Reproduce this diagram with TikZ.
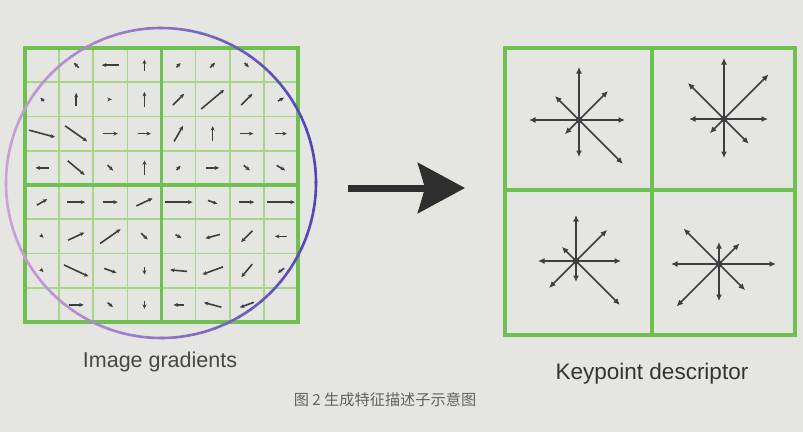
\documentclass[tikz,border=0pt]{standalone}
\usepackage{fontspec}
\setmainfont{Liberation Sans}
\newfontfamily\cjk{Noto Sans CJK SC}
\usetikzlibrary{arrows.meta}
\definecolor{paper}{RGB}{229,229,226}
\definecolor{cellgreen}{RGB}{165,215,135}
\definecolor{boxgreen}{RGB}{110,192,80}
\definecolor{ringpink}{RGB}{205,160,215}
\definecolor{ringblue}{RGB}{80,70,180}
\definecolor{ink}{RGB}{62,62,66}

\begin{document}
\begin{tikzpicture}[x=1pt, y=-1pt,
    grad/.style={ink, line width=1.6pt, -{Stealth[length=4.5pt,width=4pt]}},
    spoke/.style={ink, line width=1.7pt, -{Latex[length=6.5pt,width=6pt]}}]

      \fill[paper] (0,0) rectangle (803,432);
      \useasboundingbox (0,0) rectangle (803,432);

      % image gradients
      \foreach \i in {1,2,3,5,6,7} {
        \draw[cellgreen, line width=1.6pt] (25+34.125*\i,48) -- (25+34.125*\i,322);
        \draw[cellgreen, line width=1.6pt] (25,48+34.25*\i) -- (298,48+34.25*\i);
      }
      \draw[boxgreen, line width=3.5pt] (25,48) rectangle (298,322)
        (161.5,48) -- (161.5,322) (25,185) -- (298,185);

      \foreach \t in {0,5,...,355} {
        \pgfmathsetmacro\mix{50+50*cos(\t)}
        \draw[ringblue!\mix!ringpink, line width=2.6pt]
          (161,183) ++(\t:155pt) arc[start angle=\t, end angle=\t+5.5, radius=155pt];
      }

      \foreach \c/\r/\a/\l in {1/0/135/7, 2/0/180/17, 3/0/90/11, 4/0/45/6, 5/0/45/7, 6/0/-45/6,
          0/1/135/5, 1/1/90/13, 2/1/0/3, 3/1/90/15, 4/1/45/16, 5/1/40/30, 6/1/45/16, 7/1/30/7,
          0/2/-15/27, 1/2/-35/27, 2/2/0/15, 3/2/0/13, 4/2/60/18, 5/2/90/15, 6/2/0/13, 7/2/0/12,
          0/3/180/13, 1/3/-40/22, 2/3/-45/8, 3/3/90/15, 4/3/45/6, 5/3/0/13, 6/3/-40/8, 7/3/-30/10,
          0/4/30/12, 1/4/0/18, 2/4/0/15, 3/4/25/18, 4/4/0/28, 5/4/-20/10, 6/4/0/15, 7/4/0/28,
          0/5/-45/4, 1/5/25/18, 2/5/35/25, 3/5/-45/9, 4/5/-30/7, 5/5/195/15, 6/5/-135/16, 7/5/180/12,
          0/6/-45/4, 1/6/-25/27, 2/6/-20/13, 3/6/-90/8, 4/6/175/17, 5/6/200/22, 6/6/-130/17, 7/6/-145/8,
          1/7/0/15, 2/7/-40/7, 3/7/-90/8, 4/7/180/10, 5/7/165/18, 6/7/200/15} {
        \pgfmathsetmacro\h{\l/2}
        \draw[grad] (42.06+34.125*\c,65.125+34.25*\r) ++(\a+180:\h pt) -- ++(\a:\l pt);
      }

      % keypoint descriptor
      \draw[boxgreen, line width=4.5pt] (505,48) rectangle (795,335)
        (652,48) -- (652,335) (505,190) -- (795,190);

      \coordinate (nw) at (579,120);
      \coordinate (ne) at (724,119);
      \coordinate (sw) at (576,261);
      \coordinate (se) at (719,264);

      \foreach \s/\spokes in {
          nw/{90/53,0/46,180/50,-90/37,45/41,135/34,-135/20,-45/62},
          ne/{90/61,0/44,180/35,-90/39,45/63,135/51,-135/20,-45/35},
          sw/{90/46,0/45,180/38,-90/21,45/44,135/20,-135/38,-45/62},
          se/{90/22,0/57,180/48,-90/37,45/29,135/50,-135/60,-45/37}} {
        \foreach \a/\l in \spokes
          \draw[spoke] (\s) -- ++(\a:\l pt);
        \fill[ink] (\s) circle[radius=3.4pt];
      }

      \coordinate (from) at (348,188);
      \coordinate (to) at (465,188);
      \draw[black!82, line width=7pt, -{Stealth[length=47pt,width=50pt,inset=7pt]}] (from) -- (to);

      \node[anchor=base, font=\fontsize{21.5}{24}\selectfont, text=black!72] (gradlabel) at (160,367) {Image gradients};
      \node[anchor=base, font=\fontsize{22.5}{26}\selectfont, text=black!80] (desclabel) at (652,379) {Keypoint descriptor};
      \node[anchor=base, font=\cjk\fontsize{15.2}{18}\selectfont, text=black!62] (caption) at (385,405) {图 2\ 生成特征描述子示意图};
    \end{tikzpicture}
\end{document}
